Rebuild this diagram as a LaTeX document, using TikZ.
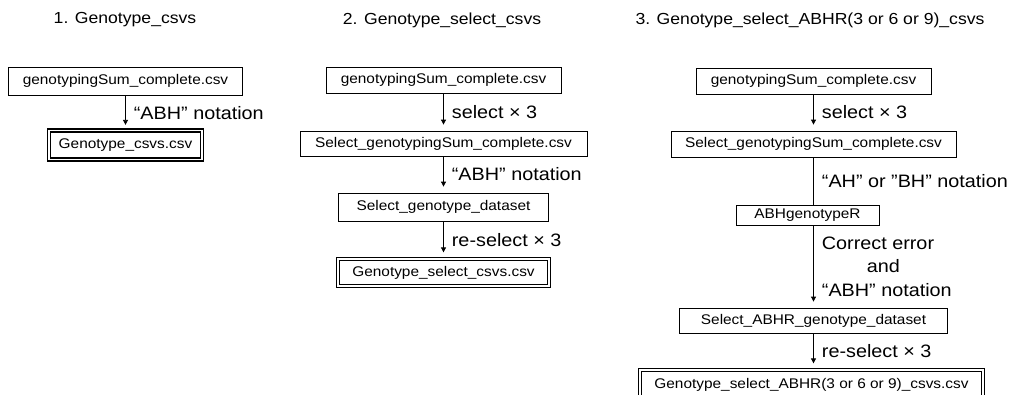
\documentclass[tikz,border=0pt]{standalone}
\usepackage{fontspec}
\setmainfont[FakeStretch=1.1]{Liberation Sans}
\usetikzlibrary{arrows.meta}

\tikzset{
	file/.style={draw, line width=0.8pt, inner sep=0pt, minimum height=26pt, font=\fontsize{14}{16}\selectfont},
	result/.style={file, double, double distance=1.8pt, line width=1.3pt, minimum height=29pt},
	title/.style={font=\fontsize{16}{19}\selectfont},
	link/.style={line width=0.8pt},
	flow/.style={link, -{Triangle[length=5pt,width=5pt]}, shorten >=6pt},
	note/.style={right, inner xsep=8pt, inner ysep=0pt, align=left, font=\fontsize{18}{23.5}\selectfont},
}

\begin{document}
\begin{tikzpicture}[x=1pt, y=-1pt]
	\clip (0,0) rectangle (1012,394); % page size, the last box runs off the bottom
	
	% 1. Genotype_csvs
	\node[title] (t1) at (125,20) {1. Genotype\_csvs};
	\node[file, minimum width=234pt, minimum height=28pt] (a1) at (125.5,81) {genotypingSum\_complete.csv};
	\node[result, minimum width=153pt] (a2) at (125.5,145) {Genotype\_csvs.csv};
	\draw[flow, shorten >=5pt] (a1) -- node[note] {“ABH” notation} (a2);
	
	% 2. Genotype_select_csvs
	\node[title] (t2) at (442,20) {2. Genotype\_select\_csvs};
	\node[file, minimum width=235pt] (b1) at (443.5,80) {genotypingSum\_complete.csv};
	\node[file, minimum width=287pt, minimum height=25pt] (b2) at (443.5,143.5) {Select\_genotypingSum\_complete.csv};
	\node[file, minimum width=210pt, minimum height=28pt] (b3) at (443.5,207) {Select\_genotype\_dataset};
	\node[result, minimum width=211pt, minimum height=27pt] (b4) at (443.5,272.5) {Genotype\_select\_csvs.csv};
	\draw[flow] (b1) -- node[note] {select × 3} (b2);
	\draw[flow] (b2) -- node[note] {“ABH” notation} (b3);
	\draw[flow] (b3) -- node[note] {re-select × 3} (b4);
	
	% 3. Genotype_select_ABHR(3 or 6 or 9)_csvs
	\node[title] (t3) at (810,20) {3. Genotype\_select\_ABHR(3 or 6 or 9)\_csvs};
	\node[file, minimum width=235pt] (c1) at (813.5,81) {genotypingSum\_complete.csv};
	\node[file, minimum width=285pt] (c2) at (813.5,144) {Select\_genotypingSum\_complete.csv};
	\node[file, minimum width=143pt, minimum height=20pt] (c3) at (807.5,215) {ABHgenotypeR};
	\node[file, minimum width=268pt, minimum height=25pt] (c4) at (813.5,320.5) {Select\_ABHR\_genotype\_dataset};
	\node[result, minimum width=343pt, minimum height=30pt] (c5) at (811.5,385) {Genotype\_select\_ABHR(3 or 6 or 9)\_csvs.csv};
	\draw[flow] (c1) -- node[note] {select × 3} (c2);
	\draw[link] (c2.south) -- node[note] {“AH” or ”BH” notation} (c2.south |- c3.north);
	\draw[flow] (c4.north |- c3.south) -- node[note] {Correct error\\\hspace*{45pt}and\\“ABH” notation} (c4.north);
	\draw[flow] (c4.south) -- node[note] {re-select × 3} (c4.south |- c5.north);
\end{tikzpicture}
\end{document}
